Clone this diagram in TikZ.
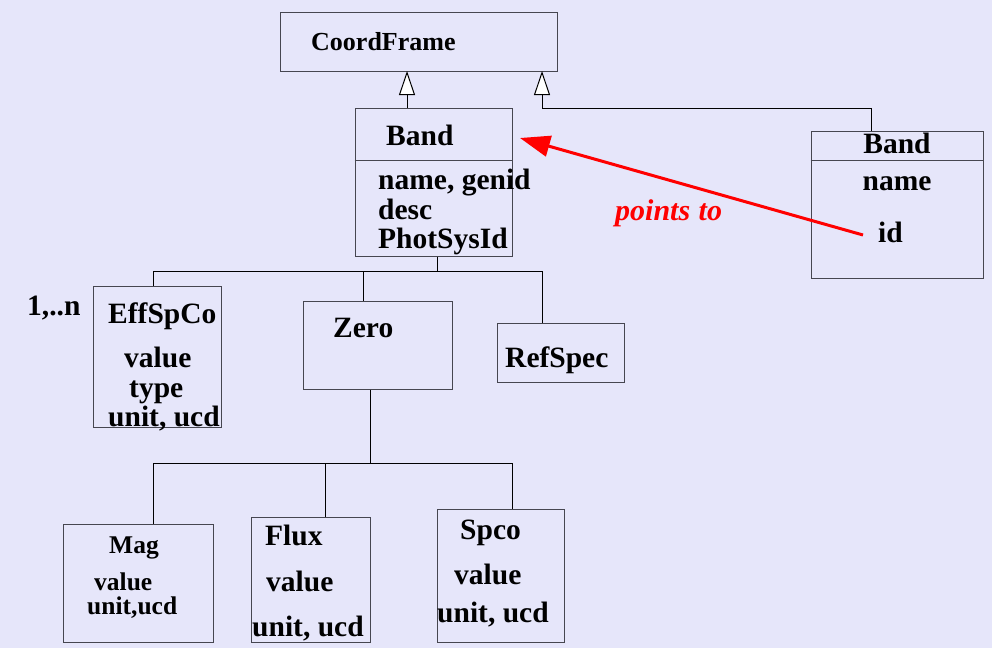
\documentclass[tikz,border=0pt]{standalone}
\usepackage{fontspec}
\setmainfont{Liberation Serif}
\usetikzlibrary{arrows.meta,fit,calc}
\definecolor{bg}{RGB}{230,230,250}
\definecolor{edge}{RGB}{70,70,80}
\begin{document}
\begin{tikzpicture}[x=1pt,y=-1pt,
  box/.style={draw=edge,line width=1pt,inner sep=0pt},
  conn/.style={draw=black,line width=1pt},
  inh/.style={conn,-{Triangle[open,length=24pt,width=16pt,fill=white]}},
  txt/.style={anchor=base west,inner sep=0pt,font=\bfseries\fontsize{29.5}{33}\selectfont},
  stxt/.style={anchor=base west,inner sep=0pt,font=\bfseries\fontsize{25.5}{29}\selectfont},
  ctxt/.style={anchor=base,inner sep=0pt,font=\bfseries\fontsize{29.5}{33}\selectfont},
  redarr/.style={draw=red,line width=3pt,-{Triangle[length=30pt,width=21pt]}}]
\fill[bg] (0,0) rectangle (992,648);
\useasboundingbox (0,0) rectangle (992,648);
% boxes
\node[box,fit={(280,12) (557,71)}] (cf) {};
\node[box,fit={(355,108) (512,256)}] (band) {};
\node[box,fit={(811,131) (983,278)}] (band2) {};
\node[box,fit={(93,286) (221,427)}] (eff) {};
\node[box,fit={(303,301) (452,389)}] (zero) {};
\node[box,fit={(497,323) (624,382)}] (ref) {};
\node[box,fit={(63.5,524.5) (213,642)}] (mag) {};
\node[box,fit={(251,517) (370,642)}] (flux) {};
\node[box,fit={(437,509) (564.5,642)}] (spco) {};
% dividers
\draw[draw=edge,line width=1pt] (band.west |- 0,160.5) -- (band.east |- 0,160.5);
\draw[draw=edge,line width=1pt] (band2.west |- 0,160) -- (band2.east |- 0,160);
% texts
\node[stxt,font=\bfseries\fontsize{26}{30}\selectfont] (tcf) at (311,50) {CoordFrame};
\node[txt] (tband) at (386,145) {Band};
\node[txt] (ta1) at (378,189) {name, genid};
\node[txt] (ta2) at (378,219) {desc};
\node[txt] (ta3) at (378,248) {PhotSysId};
\node[ctxt] (tband2) at (897,153) {Band};
\node[ctxt] (tname2) at (897,190) {name};
\node[txt] (tid2) at (878,242) {id};
\node[txt] (tmult) at (27,315) {1,..n};
\node[txt] (te1) at (108,323) {EffSpCo};
\node[txt] (te2) at (124,367) {value};
\node[txt] (te3) at (129,397) {type};
\node[txt] (te4) at (108,426) {unit, ucd};
\node[txt] (tzero) at (333,337) {Zero};
\node[txt] (tref) at (505,367) {RefSpec};
\node[stxt] (tm1) at (109,553) {Mag};
\node[stxt] (tm2) at (94,590) {value};
\node[stxt] (tm3) at (87,614) {unit,ucd};
\node[txt] (tf1) at (265,545) {Flux};
\node[txt] (tf2) at (266,591) {value};
\node[txt] (tf3) at (252,636) {unit, ucd};
\node[txt] (ts1) at (460,539) {Spco};
\node[txt] (ts2) at (454,584) {value};
\node[txt] (ts3) at (437,622) {unit, ucd};
\node[anchor=base west,inner sep=0pt,text=red,font=\bfseries\itshape\fontsize{30}{34}\selectfont] (tpt) at (615,220) {points\hspace{1pt} to};
% inheritance
\coordinate (i1) at (407,71);
\coordinate (i2) at (542,71);
\coordinate (k2) at (542,108);
\draw[inh] (band.north -| i1) -- (i1);
\draw[inh] (band2.north -| 871,0) |- (k2) -- (i2);
% composition tree from Band
\coordinate (bus1) at (437,271.5);
\draw[conn] (band.south -| bus1) -- (bus1);
\draw[conn] (eff.north -| 153,0) |- (bus1);
\draw[conn] (zero.north -| 363,0) -- (363,271.5);
\draw[conn] (bus1) -| (ref.north -| 542,0);
% tree from Zero
\coordinate (bus2) at (370,463.5);
\draw[conn] (zero.south -| bus2) -- (bus2);
\draw[conn] (mag.north -| 153,0) |- (bus2);
\draw[conn] (flux.north -| 325,0) -- (325,463.5);
\draw[conn] (bus2) -| (spco.north -| 512,0);
% red arrow
\coordinate (pfrom) at (863,235);
\coordinate (pto) at (520,138);
\draw[redarr] (pfrom) -- (pto);
\end{tikzpicture}
\end{document}
